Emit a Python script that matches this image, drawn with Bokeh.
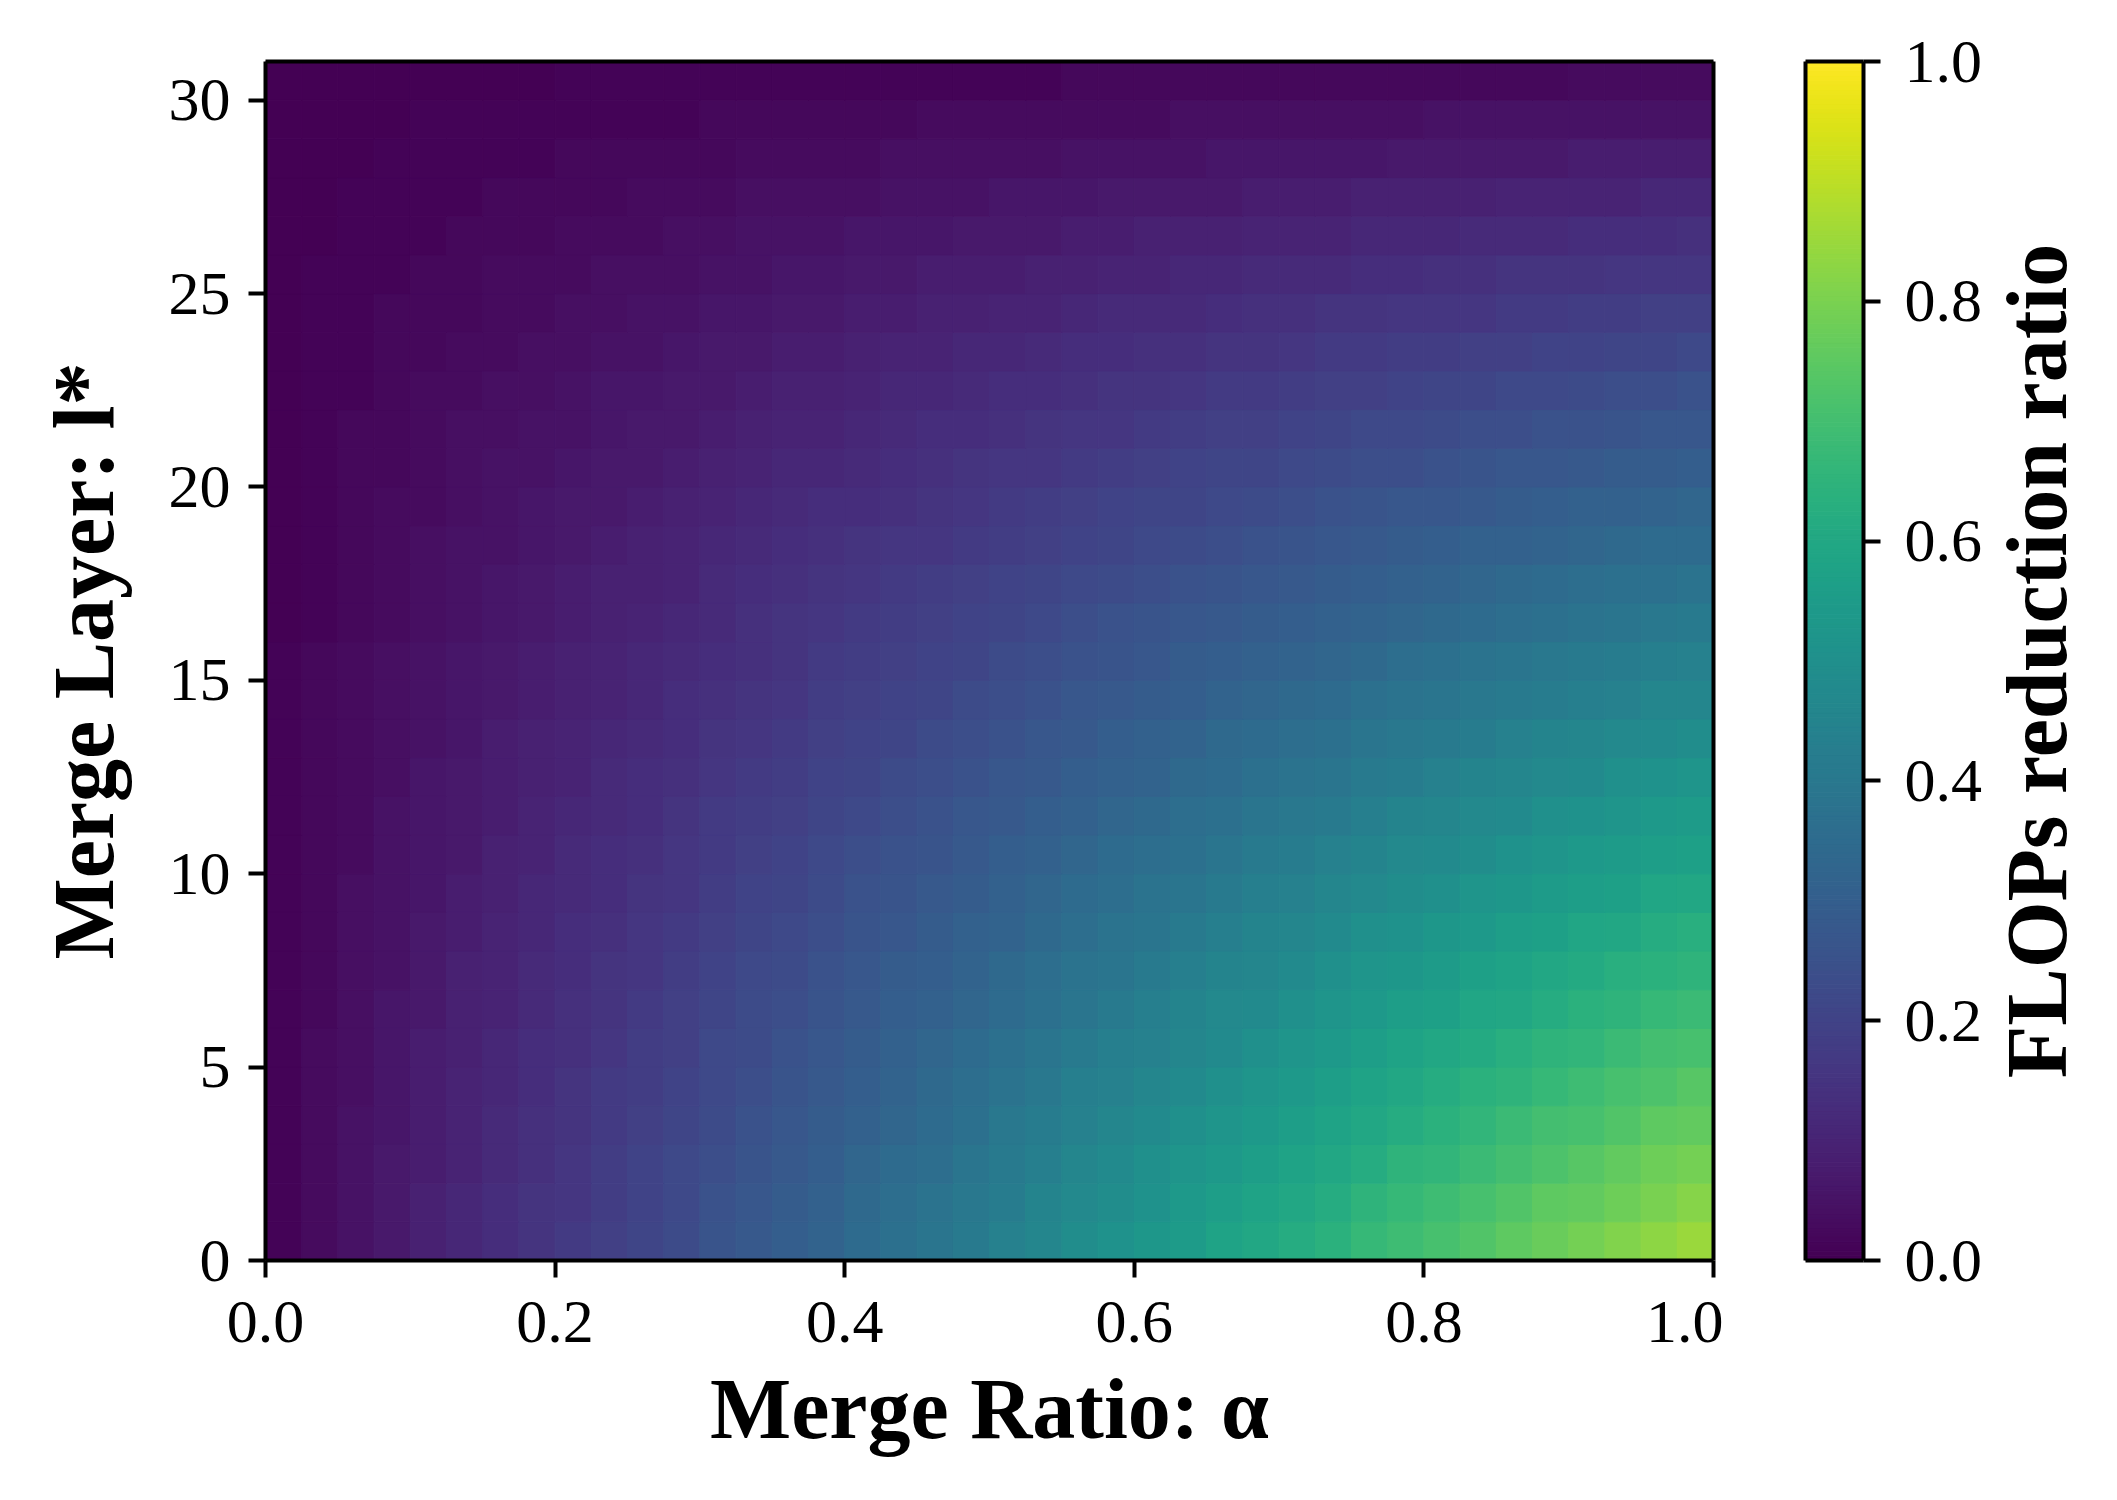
import numpy as np
from bokeh.plotting import figure
from bokeh.layouts import row
from bokeh.models import (ColumnDataSource, FixedTicker, PrintfTickFormatter,
                          LinearAxis, Range1d)
from bokeh.palettes import Viridis256
from bokeh.transform import linear_cmap
from bokeh.embed import file_html
from bokeh.resources import INLINE

# ---------------- data ----------------
# centres of the merge-ratio bins (bin width 0.025)
alpha_bins = [0.0125, 0.0375, 0.0625, 0.0875, 0.1125, 0.1375, 0.1625, 0.1875, 0.2125, 0.2375,
              0.2625, 0.2875, 0.3125, 0.3375, 0.3625, 0.3875, 0.4125, 0.4375, 0.4625, 0.4875,
              0.5125, 0.5375, 0.5625, 0.5875, 0.6125, 0.6375, 0.6625, 0.6875, 0.7125, 0.7375,
              0.7625, 0.7875, 0.8125, 0.8375, 0.8625, 0.8875, 0.9125, 0.9375, 0.9625, 0.9875]
layers = list(range(31))
# one row per merge layer l* (0..30), one value per alpha bin
flops_reduction = [
    [0.01, 0.03, 0.05, 0.07, 0.09, 0.11, 0.13, 0.15, 0.17, 0.19, 0.21, 0.23, 0.26, 0.28, 0.30, 0.32, 0.35, 0.37, 0.39, 0.41, 0.44, 0.46, 0.49, 0.51, 0.53, 0.55, 0.58, 0.60, 0.62, 0.64, 0.67, 0.69, 0.71, 0.73, 0.75, 0.77, 0.79, 0.81, 0.83, 0.85],
    [0.01, 0.03, 0.05, 0.07, 0.09, 0.11, 0.13, 0.15, 0.16, 0.18, 0.20, 0.22, 0.25, 0.27, 0.29, 0.31, 0.34, 0.36, 0.38, 0.40, 0.42, 0.45, 0.47, 0.49, 0.51, 0.54, 0.56, 0.58, 0.60, 0.62, 0.65, 0.67, 0.69, 0.71, 0.73, 0.75, 0.76, 0.78, 0.80, 0.82],
    [0.01, 0.03, 0.05, 0.07, 0.08, 0.10, 0.12, 0.14, 0.16, 0.18, 0.20, 0.22, 0.24, 0.26, 0.28, 0.30, 0.33, 0.35, 0.36, 0.39, 0.41, 0.43, 0.46, 0.48, 0.50, 0.52, 0.54, 0.56, 0.58, 0.60, 0.62, 0.65, 0.66, 0.68, 0.70, 0.72, 0.74, 0.76, 0.78, 0.79],
    [0.01, 0.03, 0.05, 0.06, 0.08, 0.10, 0.12, 0.14, 0.15, 0.17, 0.19, 0.21, 0.23, 0.25, 0.27, 0.29, 0.31, 0.33, 0.35, 0.37, 0.40, 0.42, 0.44, 0.46, 0.48, 0.50, 0.52, 0.54, 0.56, 0.58, 0.60, 0.62, 0.64, 0.66, 0.68, 0.70, 0.71, 0.73, 0.75, 0.76],
    [0.01, 0.03, 0.04, 0.06, 0.08, 0.10, 0.11, 0.13, 0.15, 0.17, 0.18, 0.20, 0.22, 0.24, 0.26, 0.28, 0.30, 0.32, 0.34, 0.36, 0.38, 0.40, 0.43, 0.44, 0.46, 0.48, 0.50, 0.52, 0.54, 0.56, 0.58, 0.60, 0.62, 0.64, 0.65, 0.67, 0.69, 0.71, 0.72, 0.74],
    [0.01, 0.03, 0.04, 0.06, 0.08, 0.09, 0.11, 0.13, 0.14, 0.16, 0.18, 0.19, 0.22, 0.23, 0.25, 0.27, 0.29, 0.31, 0.33, 0.35, 0.37, 0.39, 0.41, 0.43, 0.44, 0.46, 0.48, 0.50, 0.52, 0.54, 0.56, 0.58, 0.60, 0.61, 0.63, 0.65, 0.66, 0.68, 0.70, 0.71],
    [0.01, 0.02, 0.04, 0.06, 0.07, 0.09, 0.10, 0.12, 0.14, 0.15, 0.17, 0.19, 0.21, 0.23, 0.24, 0.26, 0.28, 0.30, 0.31, 0.33, 0.35, 0.37, 0.39, 0.41, 0.43, 0.45, 0.47, 0.48, 0.50, 0.52, 0.54, 0.56, 0.57, 0.59, 0.60, 0.62, 0.64, 0.65, 0.67, 0.68],
    [0.01, 0.02, 0.04, 0.05, 0.07, 0.09, 0.10, 0.12, 0.13, 0.15, 0.16, 0.18, 0.20, 0.22, 0.23, 0.25, 0.27, 0.29, 0.30, 0.32, 0.34, 0.36, 0.38, 0.39, 0.41, 0.43, 0.45, 0.46, 0.48, 0.50, 0.52, 0.53, 0.55, 0.57, 0.58, 0.60, 0.61, 0.63, 0.64, 0.65],
    [0.01, 0.02, 0.04, 0.05, 0.07, 0.08, 0.10, 0.11, 0.13, 0.14, 0.16, 0.17, 0.19, 0.21, 0.22, 0.24, 0.26, 0.27, 0.29, 0.31, 0.32, 0.34, 0.36, 0.38, 0.39, 0.41, 0.43, 0.45, 0.46, 0.48, 0.50, 0.51, 0.53, 0.54, 0.56, 0.57, 0.59, 0.60, 0.62, 0.63],
    [0.01, 0.02, 0.04, 0.05, 0.06, 0.08, 0.09, 0.11, 0.12, 0.13, 0.15, 0.16, 0.18, 0.20, 0.21, 0.23, 0.25, 0.26, 0.28, 0.29, 0.31, 0.33, 0.35, 0.36, 0.38, 0.39, 0.41, 0.43, 0.44, 0.46, 0.47, 0.49, 0.50, 0.52, 0.53, 0.55, 0.56, 0.57, 0.59, 0.60],
    [0.01, 0.02, 0.03, 0.05, 0.06, 0.07, 0.09, 0.10, 0.12, 0.13, 0.14, 0.16, 0.17, 0.19, 0.20, 0.22, 0.24, 0.25, 0.26, 0.28, 0.30, 0.31, 0.33, 0.35, 0.36, 0.37, 0.39, 0.41, 0.42, 0.44, 0.45, 0.47, 0.48, 0.49, 0.51, 0.52, 0.54, 0.55, 0.56, 0.57],
    [0.01, 0.02, 0.03, 0.05, 0.06, 0.07, 0.08, 0.10, 0.11, 0.12, 0.13, 0.15, 0.17, 0.18, 0.19, 0.21, 0.22, 0.24, 0.25, 0.27, 0.28, 0.30, 0.31, 0.33, 0.34, 0.36, 0.37, 0.39, 0.40, 0.41, 0.43, 0.45, 0.46, 0.47, 0.48, 0.50, 0.51, 0.52, 0.54, 0.55],
    [0.01, 0.02, 0.03, 0.04, 0.06, 0.07, 0.08, 0.09, 0.10, 0.12, 0.13, 0.14, 0.16, 0.17, 0.18, 0.20, 0.21, 0.23, 0.24, 0.25, 0.27, 0.28, 0.30, 0.31, 0.32, 0.34, 0.35, 0.37, 0.38, 0.39, 0.41, 0.42, 0.44, 0.45, 0.46, 0.47, 0.48, 0.50, 0.51, 0.52],
    [0.01, 0.02, 0.03, 0.04, 0.05, 0.06, 0.08, 0.09, 0.10, 0.11, 0.12, 0.13, 0.15, 0.16, 0.17, 0.19, 0.20, 0.21, 0.23, 0.24, 0.25, 0.27, 0.28, 0.30, 0.31, 0.32, 0.34, 0.35, 0.36, 0.37, 0.39, 0.40, 0.41, 0.42, 0.44, 0.45, 0.46, 0.47, 0.48, 0.49],
    [0.01, 0.02, 0.03, 0.04, 0.05, 0.06, 0.07, 0.08, 0.09, 0.10, 0.11, 0.13, 0.14, 0.15, 0.16, 0.18, 0.19, 0.20, 0.21, 0.23, 0.24, 0.25, 0.27, 0.28, 0.29, 0.30, 0.32, 0.33, 0.34, 0.35, 0.37, 0.38, 0.39, 0.40, 0.41, 0.42, 0.43, 0.44, 0.46, 0.46],
    [0.01, 0.02, 0.03, 0.04, 0.05, 0.06, 0.07, 0.08, 0.09, 0.10, 0.11, 0.12, 0.13, 0.14, 0.15, 0.17, 0.18, 0.19, 0.20, 0.21, 0.23, 0.24, 0.25, 0.26, 0.27, 0.29, 0.30, 0.31, 0.32, 0.33, 0.34, 0.36, 0.37, 0.38, 0.39, 0.40, 0.41, 0.42, 0.43, 0.44],
    [0.00, 0.01, 0.02, 0.03, 0.04, 0.05, 0.06, 0.07, 0.08, 0.09, 0.10, 0.11, 0.12, 0.14, 0.15, 0.16, 0.17, 0.18, 0.19, 0.20, 0.21, 0.22, 0.24, 0.25, 0.26, 0.27, 0.28, 0.29, 0.30, 0.31, 0.32, 0.33, 0.34, 0.35, 0.36, 0.37, 0.38, 0.39, 0.40, 0.41],
    [0.00, 0.01, 0.02, 0.03, 0.04, 0.05, 0.06, 0.07, 0.08, 0.09, 0.09, 0.10, 0.12, 0.13, 0.14, 0.15, 0.16, 0.17, 0.18, 0.19, 0.20, 0.21, 0.22, 0.23, 0.24, 0.25, 0.26, 0.27, 0.28, 0.29, 0.30, 0.31, 0.32, 0.33, 0.34, 0.35, 0.36, 0.37, 0.37, 0.38],
    [0.00, 0.01, 0.02, 0.03, 0.04, 0.05, 0.05, 0.06, 0.07, 0.08, 0.09, 0.10, 0.11, 0.12, 0.13, 0.14, 0.15, 0.16, 0.16, 0.17, 0.18, 0.19, 0.20, 0.21, 0.22, 0.23, 0.24, 0.25, 0.26, 0.27, 0.28, 0.29, 0.30, 0.31, 0.31, 0.32, 0.33, 0.34, 0.35, 0.35],
    [0.00, 0.01, 0.02, 0.03, 0.03, 0.04, 0.05, 0.06, 0.07, 0.07, 0.08, 0.09, 0.10, 0.11, 0.12, 0.13, 0.13, 0.14, 0.15, 0.16, 0.17, 0.18, 0.19, 0.20, 0.21, 0.21, 0.22, 0.23, 0.24, 0.25, 0.26, 0.27, 0.27, 0.28, 0.29, 0.30, 0.31, 0.31, 0.32, 0.33],
    [0.00, 0.01, 0.02, 0.02, 0.03, 0.04, 0.05, 0.05, 0.06, 0.07, 0.07, 0.08, 0.09, 0.10, 0.11, 0.11, 0.12, 0.13, 0.14, 0.15, 0.16, 0.16, 0.17, 0.18, 0.19, 0.20, 0.21, 0.21, 0.22, 0.23, 0.24, 0.24, 0.25, 0.26, 0.27, 0.27, 0.28, 0.29, 0.29, 0.30],
    [0.00, 0.01, 0.02, 0.02, 0.03, 0.04, 0.04, 0.05, 0.05, 0.06, 0.07, 0.07, 0.08, 0.09, 0.10, 0.10, 0.11, 0.12, 0.13, 0.13, 0.14, 0.15, 0.16, 0.16, 0.17, 0.18, 0.19, 0.19, 0.20, 0.21, 0.22, 0.22, 0.23, 0.24, 0.24, 0.25, 0.25, 0.26, 0.27, 0.27],
    [0.00, 0.01, 0.01, 0.02, 0.03, 0.03, 0.04, 0.04, 0.05, 0.06, 0.06, 0.07, 0.07, 0.08, 0.09, 0.09, 0.10, 0.11, 0.11, 0.12, 0.13, 0.13, 0.14, 0.15, 0.15, 0.16, 0.17, 0.17, 0.18, 0.19, 0.19, 0.20, 0.21, 0.21, 0.22, 0.22, 0.23, 0.24, 0.24, 0.25],
    [0.00, 0.01, 0.01, 0.02, 0.02, 0.03, 0.03, 0.04, 0.04, 0.05, 0.05, 0.06, 0.07, 0.07, 0.08, 0.08, 0.09, 0.10, 0.10, 0.11, 0.11, 0.12, 0.13, 0.13, 0.14, 0.14, 0.15, 0.15, 0.16, 0.17, 0.17, 0.18, 0.18, 0.19, 0.19, 0.20, 0.20, 0.21, 0.21, 0.22],
    [0.00, 0.01, 0.01, 0.02, 0.02, 0.02, 0.03, 0.03, 0.04, 0.04, 0.05, 0.05, 0.06, 0.06, 0.07, 0.07, 0.08, 0.08, 0.09, 0.09, 0.10, 0.10, 0.11, 0.12, 0.12, 0.12, 0.13, 0.14, 0.14, 0.15, 0.15, 0.16, 0.16, 0.16, 0.17, 0.17, 0.18, 0.18, 0.19, 0.19],
    [0.00, 0.01, 0.01, 0.01, 0.02, 0.02, 0.03, 0.03, 0.03, 0.04, 0.04, 0.04, 0.05, 0.05, 0.06, 0.06, 0.07, 0.07, 0.08, 0.08, 0.08, 0.09, 0.09, 0.10, 0.10, 0.11, 0.11, 0.12, 0.12, 0.12, 0.13, 0.13, 0.14, 0.14, 0.15, 0.15, 0.15, 0.16, 0.16, 0.16],
    [0.00, 0.00, 0.01, 0.01, 0.01, 0.02, 0.02, 0.02, 0.03, 0.03, 0.03, 0.04, 0.04, 0.05, 0.05, 0.05, 0.06, 0.06, 0.06, 0.07, 0.07, 0.07, 0.08, 0.08, 0.09, 0.09, 0.09, 0.10, 0.10, 0.10, 0.11, 0.11, 0.11, 0.12, 0.12, 0.12, 0.13, 0.13, 0.13, 0.14],
    [0.00, 0.00, 0.01, 0.01, 0.01, 0.01, 0.02, 0.02, 0.02, 0.02, 0.03, 0.03, 0.03, 0.04, 0.04, 0.04, 0.04, 0.05, 0.05, 0.05, 0.06, 0.06, 0.06, 0.07, 0.07, 0.07, 0.07, 0.08, 0.08, 0.08, 0.09, 0.09, 0.09, 0.09, 0.10, 0.10, 0.10, 0.10, 0.11, 0.11],
    [0.00, 0.00, 0.00, 0.01, 0.01, 0.01, 0.01, 0.01, 0.02, 0.02, 0.02, 0.02, 0.02, 0.03, 0.03, 0.03, 0.03, 0.04, 0.04, 0.04, 0.04, 0.04, 0.05, 0.05, 0.05, 0.05, 0.06, 0.06, 0.06, 0.06, 0.06, 0.07, 0.07, 0.07, 0.07, 0.07, 0.08, 0.08, 0.08, 0.08],
    [0.00, 0.00, 0.00, 0.00, 0.01, 0.01, 0.01, 0.01, 0.01, 0.01, 0.01, 0.01, 0.02, 0.02, 0.02, 0.02, 0.02, 0.02, 0.03, 0.03, 0.03, 0.03, 0.03, 0.03, 0.03, 0.04, 0.04, 0.04, 0.04, 0.04, 0.04, 0.04, 0.05, 0.05, 0.05, 0.05, 0.05, 0.05, 0.05, 0.05],
    [0.00, 0.00, 0.00, 0.00, 0.00, 0.00, 0.00, 0.00, 0.01, 0.01, 0.01, 0.01, 0.01, 0.01, 0.01, 0.01, 0.01, 0.01, 0.01, 0.01, 0.01, 0.01, 0.02, 0.02, 0.02, 0.02, 0.02, 0.02, 0.02, 0.02, 0.02, 0.02, 0.02, 0.02, 0.02, 0.02, 0.03, 0.03, 0.03, 0.03],
]
alpha_bin_width = 0.025
x_ticks = [0.0, 0.2, 0.4, 0.6, 0.8, 1.0]
y_ticks = [0, 5, 10, 15, 20, 25, 30]
cbar_ticks = [0.0, 0.2, 0.4, 0.6, 0.8, 1.0]
x_label = "Merge Ratio: α"
y_label = "Merge Layer: l*"
cbar_label = "FLOPs reduction ratio"
vmin, vmax = 0.0, 1.0

# ---------------- styling ----------------
FONT = "Liberation Serif"
TICK_FS = "62px"
LABEL_FS = "86px"
LW = 4
SPINE_W = 4
TICK_LEN = 17
TOP, BOTTOM = 61, 234
FRAME_H = 1199
FIG_H = TOP + FRAME_H + BOTTOM


def style_axis(ax, standoff, label_standoff):
    ax.axis_line_color = "black"
    ax.axis_line_width = SPINE_W
    ax.major_tick_line_color = "black"
    ax.major_tick_line_width = LW
    ax.major_tick_in = 0
    ax.major_tick_out = TICK_LEN
    ax.minor_tick_line_color = None
    ax.major_label_text_font = FONT
    ax.major_label_text_font_size = TICK_FS
    ax.major_label_text_color = "black"
    ax.major_label_standoff = standoff
    ax.axis_label_text_font = FONT
    ax.axis_label_text_font_size = LABEL_FS
    ax.axis_label_text_font_style = "bold"
    ax.axis_label_text_color = "black"
    ax.axis_label_standoff = label_standoff


def spine(fig, side):
    """A plain black spine (axis line only, no ticks or labels)."""
    ax = LinearAxis(ticker=FixedTicker(ticks=[]))
    ax.axis_line_color = "black"
    ax.axis_line_width = SPINE_W
    ax.major_tick_line_color = None
    ax.minor_tick_line_color = None
    ax.major_tick_out = 0
    ax.major_label_text_font_size = "0px"
    ax.major_label_standoff = 0
    fig.add_layout(ax, side)


def clean(fig):
    fig.xgrid.visible = False
    fig.ygrid.visible = False
    fig.background_fill_color = "white"
    fig.border_fill_color = "white"
    fig.outline_line_color = None


# ---------------- heatmap ----------------
xs, ys, vs = [], [], []
for li, rowvals in zip(layers, flops_reduction):
    for a, v in zip(alpha_bins, rowvals):
        xs.append(a)
        ys.append(li + 0.5)
        vs.append(v)
src = ColumnDataSource(dict(x=xs, y=ys, v=vs))

p = figure(width=265 + 1448 + 10, height=FIG_H,
           x_range=Range1d(0, 1), y_range=Range1d(0, len(layers)),
           output_backend="svg", toolbar_location=None,
           min_border_left=265, min_border_right=10,
           min_border_top=TOP, min_border_bottom=BOTTOM)
cmap = linear_cmap("v", Viridis256, vmin, vmax)
p.rect(x="x", y="y", width=alpha_bin_width, height=1, source=src,
       fill_color=cmap, line_color=cmap, line_width=1)
clean(p)

xa = p.xaxis[0]
xa.ticker = FixedTicker(ticks=x_ticks)
xa.formatter = PrintfTickFormatter(format="%.1f")
xa.axis_label = x_label
style_axis(xa, 24, 16)

ya = p.yaxis[0]
ya.ticker = FixedTicker(ticks=y_ticks)
ya.axis_label = y_label
style_axis(ya, 18, 34)

spine(p, "above")
spine(p, "right")

# ---------------- colour bar ----------------
cb = figure(width=82 + 60 + 120, height=FIG_H,
            x_range=Range1d(0, 1), y_range=Range1d(vmin, vmax),
            output_backend="svg", toolbar_location=None,
            x_axis_location=None, y_axis_location=None,
            min_border_left=82, min_border_right=120,
            min_border_top=TOP, min_border_bottom=BOTTOM)
edges = np.linspace(vmin, vmax, len(Viridis256) + 1)
cb.quad(left=0, right=1, bottom=edges[:-1], top=edges[1:],
        fill_color=list(Viridis256), line_color=list(Viridis256), line_width=1)
clean(cb)

cax = LinearAxis(ticker=FixedTicker(ticks=cbar_ticks),
                 formatter=PrintfTickFormatter(format="%.1f"))
style_axis(cax, 24, 10)
cb.add_layout(cax, "right")
spine(cb, "left")
spine(cb, "above")
spine(cb, "below")

# ---------------- colour-bar title (left axis label of a blank strip) ----------------
cl = figure(width=92 + 12, height=FIG_H,
            x_range=Range1d(0, 1), y_range=Range1d(0, 1),
            output_backend="svg", toolbar_location=None,
            x_axis_location=None, y_axis_location=None,
            min_border_left=92, min_border_right=0,
            min_border_top=TOP, min_border_bottom=BOTTOM)
clean(cl)
tax = LinearAxis(ticker=FixedTicker(ticks=[]), axis_label=cbar_label)
style_axis(tax, 0, 0)
tax.axis_line_color = None
tax.major_tick_out = 0
tax.major_tick_line_color = None
tax.major_label_text_font_size = "0px"
cl.add_layout(tax, "left")

layout = row(p, cb, cl)
open("out.html", "w").write(file_html(layout, INLINE))
